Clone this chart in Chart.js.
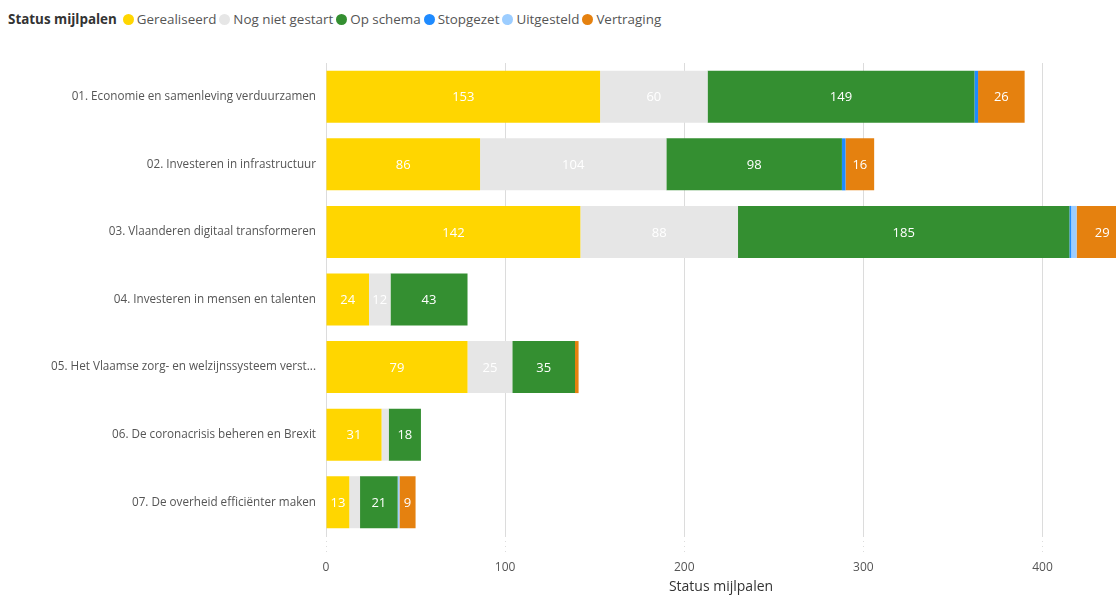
<!DOCTYPE html>
<html>
<head>
<meta charset="utf-8">
<script src="https://cdn.jsdelivr.net/npm/chart.js@4"></script>
<style>
  body { margin: 0; background: #fff; font-family: "Open Sans", sans-serif; }
  #wrap { position: relative; width: 1116px; height: 595px; overflow: hidden; }
  #legend { position: absolute; left: 8px; top: 10px; font-size: 13.4px; color: #555; white-space: nowrap; }
  #legend b { color: #333; margin-right: 6px; }
  #legend span.item { margin-right: 3px; }
  #legend i { display: inline-block; width: 11px; height: 11px; border-radius: 50%; margin-right: 3px; vertical-align: -1px; }
  canvas { position: absolute; left: 0; top: 0; }
</style>
</head>
<body>
<div id="wrap">
  <div id="legend"></div>
  <canvas id="bar-chart" width="1116" height="595"></canvas>
</div>
<script>
const categories = [
  "01. Economie en samenleving verduurzamen",
  "02. Investeren in infrastructuur",
  "03. Vlaanderen digitaal transformeren",
  "04. Investeren in mensen en talenten",
  "05. Het Vlaamse zorg- en welzijnssysteem verst...",
  "06. De coronacrisis beheren en Brexit",
  "07. De overheid efficiënter maken",
];

const gerealiseerd = [153, 86, 142, 24, 79, 31, 13];
const nogNietGestart = [60, 104, 88, 12, 25, 4, 6];
const opSchema = [149, 98, 185, 43, 35, 18, 21];
const stopgezet = [2, 2, 1, 0, 0, 0, 0];
const uitgesteld = [0, 0, 3, 0, 0, 0, 1];
const vertraging = [26, 16, 29, 0, 2, 0, 9];

const xTicks = [0, 100, 200, 300, 400];

const series = [
  { label: "Gerealiseerd", data: gerealiseerd, color: "#FFD600" },
  { label: "Nog niet gestart", data: nogNietGestart, color: "#E6E6E6" },
  { label: "Op schema", data: opSchema, color: "#348F31" },
  { label: "Stopgezet", data: stopgezet, color: "#1F8BFF" },
  { label: "Uitgesteld", data: uitgesteld, color: "#9CCDFF" },
  { label: "Vertraging", data: vertraging, color: "#E5810F" },
];

// legend in html, title inline like the original
let legendHtml = "<b>Status mijlpalen</b>";
series.forEach((s) => {
  legendHtml += '<span class="item"><i style="background:' + s.color + '"></i>' + s.label + "</span>";
});
document.getElementById("legend").innerHTML = legendHtml;

// labels inside the bars
const barLabels = {
  id: "barLabels",
  afterDatasetsDraw(chart) {
    const ctx = chart.ctx;
    ctx.save();
    ctx.font = "13px 'Open Sans'";
    ctx.fillStyle = "#ffffff";
    ctx.textAlign = "center";
    ctx.textBaseline = "middle";
    chart.data.datasets.forEach((ds, i) => {
      chart.getDatasetMeta(i).data.forEach((bar, j) => {
        const v = ds.data[j];
        if (!v) return;
        const w = Math.abs(bar.x - bar.base);
        const txt = String(v);
        if (ctx.measureText(txt).width + 4 > w) return;
        let cx = (bar.x + bar.base) / 2;
        const right = chart.chartArea.right;
        if (bar.x > right) cx = Math.min(cx, (bar.base + right) / 2 + 6);
        ctx.fillText(txt, cx, bar.y + 1);
      });
    });
    ctx.restore();
  },
};

const myChart = new Chart("bar-chart", {
  type: "bar",
  data: {
    labels: categories,
    datasets: series.map((s) => ({
      label: s.label,
      data: s.data,
      backgroundColor: s.color,
      borderWidth: 0,
      categoryPercentage: 0.77,
      barPercentage: 1,
    })),
  },
  options: {
    indexAxis: "y",
    responsive: false,
    animation: false,
    layout: {
      padding: { top: 63, right: 0, left: 0, bottom: 0 },
    },
    scales: {
      x: {
        stacked: true,
        min: 0,
        max: 441,
        afterBuildTicks: (scale) => {
          scale.ticks = xTicks.map((v) => ({ value: v }));
        },
        afterFit: (scale) => {
          scale.height = 59;
        },
        border: { display: false },
        grid: {
          color: "#dcdcdc",
          borderDash: [1, 4],
          tickBorderDash: [1, 4],
          drawTicks: true,
          tickLength: 18,
        },
        ticks: {
          color: "#555",
          padding: 6,
          font: { family: "Open Sans", size: 12 },
        },
        title: {
          display: true,
          text: "Status mijlpalen",
          color: "#333",
          padding: 0,
          font: { family: "Open Sans", size: 14 },
        },
      },
      y: {
        stacked: true,
        afterFit: (scale) => {
          scale.width = 326;
        },
        border: { display: false },
        grid: { display: false, drawTicks: false },
        ticks: {
          color: "#555",
          padding: 10,
          font: { family: "Open Sans", size: 11.7 },
        },
      },
    },
    plugins: {
      legend: { display: false },
      tooltip: { enabled: false },
    },
  },
  plugins: [barLabels],
});
</script>
</body>
</html>
